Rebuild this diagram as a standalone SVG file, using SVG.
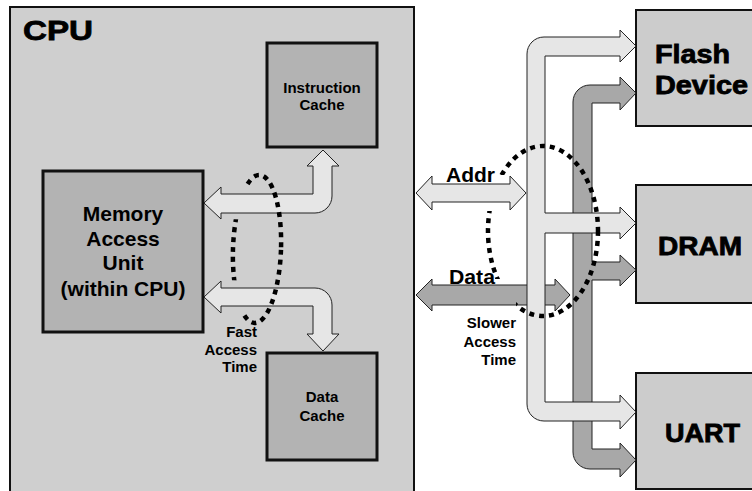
<svg xmlns="http://www.w3.org/2000/svg" width="752" height="491" viewBox="0 0 752 491">
<style>
text{font-family:"Liberation Sans",Arial,Helvetica,sans-serif;fill:#000}
.cpu{fill:#cfcfcf;stroke:#111;stroke-width:2}
.blk{fill:#b3b3b3;stroke:#111;stroke-width:3}
.dev{fill:#cccccc;stroke:#111;stroke-width:2}
.lt{fill:#e6e6e6;stroke:#222;stroke-width:1}
.dk{fill:#a8a8a8;stroke:#222;stroke-width:1}
.dot{fill:none;stroke:#000;stroke-width:4.5;stroke-dasharray:5 5}
.sm{font-size:15px;font-weight:bold;text-anchor:middle}
.mau{font-size:21px;font-weight:bold;text-anchor:middle}
.big{font-size:25px;font-weight:bold;stroke:#000;stroke-width:0.8}
.lbl{font-size:15px;font-weight:bold;text-anchor:end}
.bus{font-size:20px;font-weight:bold}
</style>
<defs>
<mask id="mL" maskUnits="userSpaceOnUse" x="0" y="0" width="752" height="491">
<rect x="0" y="0" width="752" height="491" fill="#fff"/>
<rect x="226" y="186" width="24" height="34" fill="#000"/>
<rect x="226" y="281" width="24" height="33" fill="#000"/>
</mask>
<mask id="mR" maskUnits="userSpaceOnUse" x="0" y="0" width="752" height="491">
<rect x="0" y="0" width="752" height="491" fill="#fff"/>
<rect x="480" y="175" width="25" height="36" fill="#000"/>
<rect x="482" y="279" width="34" height="33" fill="#000"/>
</mask>
</defs>
<rect x="0" y="0" width="752" height="491" fill="#fff"/>

<g id="cpu">
<rect class="cpu" x="10" y="7" width="404" height="500"/>
<text x="23" y="40" class="big" font-size="28" style="font-size:28px" textLength="70" lengthAdjust="spacingAndGlyphs">CPU</text>
</g>

<g id="instruction-cache">
<rect class="blk" x="267" y="43" width="110" height="104"/>
<text class="sm" x="322" y="93">Instruction</text>
<text class="sm" x="322" y="110">Cache</text>
</g>

<g id="memory-access-unit">
<rect class="blk" x="43" y="171" width="160" height="161"/>
<text class="mau" x="123" y="221">Memory</text>
<text class="mau" x="123" y="246">Access</text>
<text class="mau" x="123" y="270">Unit</text>
<text class="mau" x="123" y="296">(within CPU)</text>
</g>

<g id="data-cache">
<rect class="blk" x="267" y="353" width="110" height="107"/>
<text class="sm" x="322" y="402">Data</text>
<text class="sm" x="322" y="421">Cache</text>
</g>

<g id="flash-device">
<rect class="dev" x="636" y="10" width="130" height="116"/>
<text class="big" x="655" y="63" textLength="75" lengthAdjust="spacingAndGlyphs">Flash</text>
<text class="big" x="655" y="94" textLength="93" lengthAdjust="spacingAndGlyphs">Device</text>
</g>

<g id="dram">
<rect class="dev" x="636" y="185" width="130" height="118"/>
<text class="big" x="658" y="255" textLength="84" lengthAdjust="spacingAndGlyphs">DRAM</text>
</g>

<g id="uart">
<rect class="dev" x="636" y="373" width="130" height="116"/>
<text class="big" x="665" y="442" textLength="75" lengthAdjust="spacingAndGlyphs">UART</text>
</g>

<g id="connectors">
<path id="data-bus" class="dk" d="M573 102A17 17 0 0 1 590 85L620 85L620 77L636 93L620 110L620 103L592 103L592 262L620 262L620 255L636 270L620 286L620 280L592 280L592 449L620 449L620 443L636 460L620 477L620 469L590 469A17 17 0 0 1 573 452Z"/>
<path id="data-arrow" class="dk" d="M416 295L432 279L432 285L555 285L555 279L570 295L555 311L555 305L432 305L432 311Z"/>
<path id="addr-bus" class="lt" d="M527 54A17 17 0 0 1 544 37L620 37L620 30L636 46L620 62L620 56L545 56L545 213L620 213L620 207L636 223L620 239L620 233L545 233L545 402L620 402L620 395L636 412L620 429L620 421L544 421A17 17 0 0 1 527 404Z"/>
<path id="addr-arrow" class="lt" d="M416 193L432 176L432 184L510 184L510 176L526 193L510 210L510 202L432 202L432 210Z"/>
<path id="mau-icache" class="lt" d="M204 203L221 187L221 194L313 194L313 166L307 166L323 150L339 166L332 166L332 196A17 17 0 0 1 315 213L221 213L221 219Z"/>
<path id="mau-dcache" class="lt" d="M204 297L221 281L221 288L315 288A17 17 0 0 1 332 305L332 334L339 334L323 351L307 334L313 334L313 306L221 306L221 313Z"/>
</g>

<g id="annotations">
<ellipse class="dot" cx="257" cy="249" rx="24" ry="74" transform="rotate(2 257 249)" mask="url(#mL)"/>
<ellipse class="dot" cx="543" cy="231" rx="55" ry="85" mask="url(#mR)"/>
<text class="bus" x="446" y="182" textLength="49" lengthAdjust="spacingAndGlyphs">Addr</text>
<text class="bus" x="449" y="284" textLength="46" lengthAdjust="spacingAndGlyphs">Data</text>
<text class="lbl" x="257" y="337">Fast</text>
<text class="lbl" x="257" y="355">Access</text>
<text class="lbl" x="257" y="372">Time</text>
<text class="lbl" x="516" y="328">Slower</text>
<text class="lbl" x="516" y="347">Access</text>
<text class="lbl" x="516" y="365">Time</text>
</g>
</svg>
